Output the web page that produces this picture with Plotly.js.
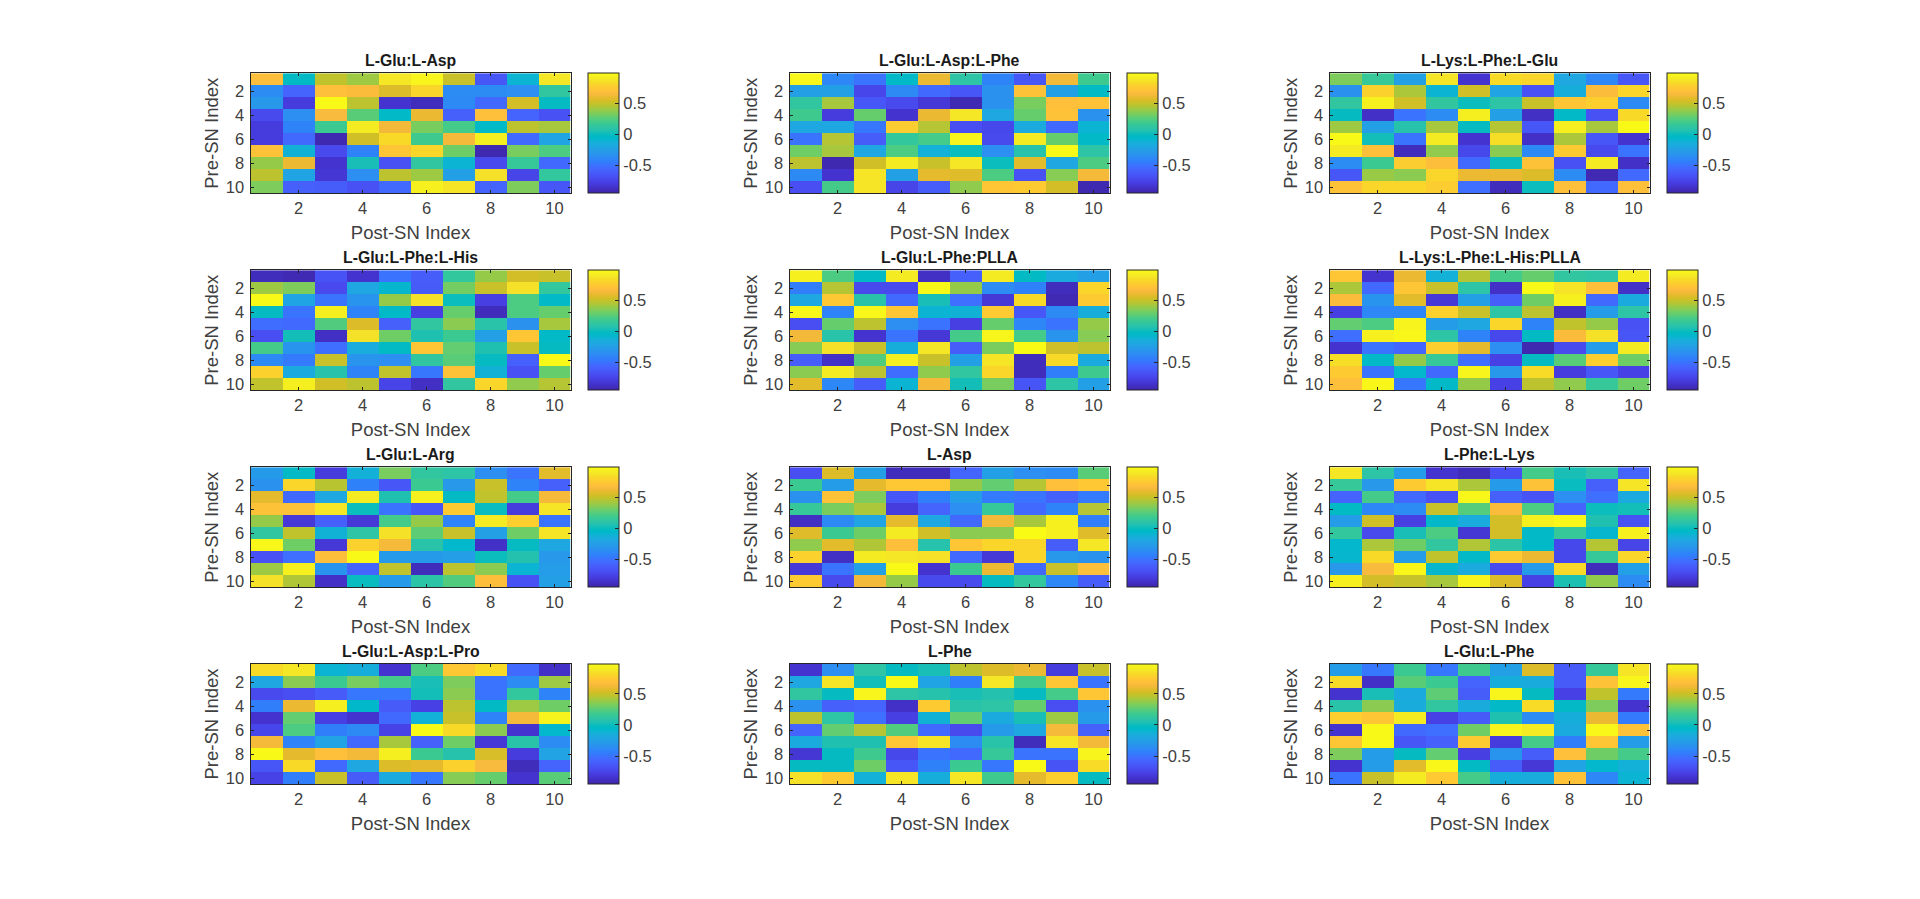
<!DOCTYPE html>
<html>
<head>
<meta charset="utf-8">
<script src="https://cdn.plot.ly/plotly-3.0.1.min.js"></script>
<style>html,body{margin:0;padding:0;background:#fff}#chart{width:1920px;height:899px}</style>
</head>
<body>
<div id="chart"></div>
<script>
const panelTitles = ["L-Glu:L-Asp","L-Glu:L-Asp:L-Phe","L-Lys:L-Phe:L-Glu","L-Glu:L-Phe:L-His","L-Glu:L-Phe:PLLA","L-Lys:L-Phe:L-His:PLLA","L-Glu:L-Arg","L-Asp","L-Phe:L-Lys","L-Glu:L-Asp:L-Pro","L-Phe","L-Glu:L-Phe"];
const snIndex = [1,2,3,4,5,6,7,8,9,10];

const gluAsp = [
[.67,-.03,.48,.40,.88,.95,.50,-.65,-.10,.88],
[-.37,-.58,.68,.66,.55,.80,-.37,-.37,-.35,.12],
[-.30,-.80,.97,.47,-.85,-.90,-.38,-.55,.53,-.02],
[-.72,-.35,.65,.25,-.05,.60,-.60,.68,-.58,-.68],
[-.80,-.42,.17,.90,.62,.32,.20,-.05,.47,.42],
[-.80,-.55,-.93,.52,.82,.18,.63,.92,-.55,-.22],
[.70,-.12,-.72,-.42,.72,.80,.30,-.93,.32,.22],
[.38,.60,-.85,.03,-.68,.12,-.10,-.72,.15,-.55],
[.47,-.22,-.83,-.35,.47,.40,-.25,.85,-.75,.13],
[.33,-.60,-.62,-.68,-.55,.93,.87,-.58,.33,-.65]];
const gluAspPhe = [
[.96,-.40,-.50,-.05,.60,.10,-.42,-.65,.62,.18],
[-.25,-.25,-.74,-.38,-.55,-.65,-.33,.70,-.25,-.03],
[.12,.42,-.65,-.72,-.82,-.92,-.33,.32,.68,.70],
[.18,-.80,.28,-.85,.60,.88,-.20,.28,.70,-.33],
[-.20,-.20,-.48,.76,.45,-.70,-.73,-.18,-.55,-.10],
[-.50,.45,-.62,.13,.20,.95,-.72,.90,.28,-.05],
[.30,.42,-.20,.22,-.13,.00,-.35,.07,.97,.10],
[.47,-.93,.52,.90,.50,.88,.00,.57,-.20,.22],
[-.38,-.85,.87,-.25,.58,.56,.22,-.68,.35,.63],
[-.70,.20,.87,-.75,-.62,.37,.72,.75,.53,-.93]];
const lysPheGlu = [
[.33,.15,-.25,.87,-.85,.83,.80,-.20,-.40,-.65],
[-.33,.78,.43,-.10,.52,-.22,-.68,-.15,.66,.80],
[.12,.93,.52,.12,.00,.10,.50,.72,.77,-.38],
[-.02,-.87,-.50,-.37,.92,-.25,-.88,-.05,-.68,.82],
[.40,-.25,.07,.42,-.02,.45,-.65,.92,.42,.97],
[.97,.02,-.50,.90,-.85,.84,-.87,.43,-.65,-.85],
[.90,.68,-.90,.37,-.73,.36,-.38,.75,-.72,-.50],
[-.37,.17,.76,.67,-.55,.00,.70,-.68,.90,-.87],
[-.65,.39,.36,.80,.60,.60,.55,-.37,-.92,-.55],
[.70,.80,.80,.76,-.52,-.90,.00,.68,-.55,.68]];
const gluPheHis = [
[-.90,-.92,-.67,-.85,-.50,-.62,.13,.38,.53,.50],
[.40,.33,-.72,-.20,-.08,-.63,.31,.50,.85,.13],
[.97,-.22,-.50,-.32,.38,.85,.00,-.78,.22,-.05],
[-.02,-.50,.92,-.42,-.05,-.78,.28,-.90,.22,.28],
[-.53,-.55,.23,.55,-.60,.12,.36,.08,-.33,.42],
[-.70,.02,-.88,.85,.30,.05,.17,-.25,.72,-.05],
[.20,-.32,-.52,-.16,-.03,.72,.27,.05,.50,-.02],
[-.38,-.47,.50,-.32,-.35,.12,.25,-.02,-.60,.97],
[.78,-.18,.07,-.42,.48,-.48,.70,-.12,-.68,.28],
[.48,.92,.52,.47,-.75,-.88,.12,.80,.37,.45]];
const gluPhePlla = [
[.93,.22,-.03,.90,-.88,-.60,.90,-.03,-.18,-.25],
[-.45,.45,-.72,-.72,.97,.38,-.37,-.43,-.90,.80],
[-.20,.73,.08,-.55,.03,-.52,-.82,.82,-.92,.75],
[.96,-.42,.96,.72,-.10,-.12,.75,-.65,-.38,-.15],
[-.70,.28,.47,-.35,-.50,-.78,.28,-.40,-.50,.38],
[.62,.08,-.85,-.50,-.82,.20,.95,.20,-.32,.35],
[.35,.85,.50,-.15,.88,-.62,.32,.99,.52,.47],
[-.62,-.87,.23,.92,.50,-.25,.87,-.90,.82,-.18],
[.36,.90,.47,-.53,.37,.12,.80,-.90,-.45,.18],
[.57,-.40,-.62,-.10,.63,.02,.32,-.66,.10,-.25]];
const lysPheHisPlla = [
[.72,-.85,.60,-.13,.45,.20,.28,.12,.10,.90],
[.43,-.55,.72,.50,.10,-.87,.97,.87,.68,-.87],
[.66,-.32,.57,-.82,-.25,-.62,.30,.93,-.55,-.18],
[-.78,-.40,-.40,.78,.50,.10,.47,-.88,-.27,.10],
[.27,.22,.94,-.27,-.20,.80,-.42,.48,.38,-.68],
[-.52,.93,.96,.10,-.42,-.73,-.03,.66,.85,-.66],
[-.85,-.50,-.56,.77,.58,-.35,-.93,-.72,-.27,.90],
[.84,-.05,.38,.15,-.53,-.77,-.02,.25,.77,.30],
[.75,-.50,-.07,-.55,.95,-.30,.83,-.80,-.65,-.77],
[.68,.96,-.48,-.05,.38,-.77,.47,.37,.15,.30]];
const gluArg = [
[-.28,-.04,-.80,-.13,.32,.12,.10,-.35,-.50,.57],
[-.33,.80,.46,-.43,-.65,.17,-.30,.50,-.42,-.60],
[.58,-.55,-.20,.90,.05,.93,-.03,.48,.20,.63],
[.70,.70,.88,.00,-.50,-.65,.75,-.01,-.80,.87],
[.38,-.82,-.60,-.82,.20,.38,-.42,.90,.77,-.50],
[.12,.48,-.12,.10,.85,.26,.50,-.25,.30,.87],
[.96,.30,-.82,.78,.63,.08,-.07,-.87,-.02,-.20],
[-.68,-.52,.67,.97,-.28,-.28,-.26,.00,.06,-.30],
[.40,.93,-.32,-.58,.48,-.90,.47,.36,-.10,-.27],
[.85,.44,-.87,-.01,-.28,.09,.23,.67,-.68,-.25]];
const asp = [
[-.70,.55,-.25,-.90,-.90,-.57,-.25,-.35,-.37,.25],
[.17,-.27,.58,.73,.73,.38,.27,.45,.68,.73],
[-.33,.70,.33,-.65,-.45,-.27,-.47,-.50,-.60,-.47],
[.15,.32,.43,-.80,-.58,-.35,.15,-.55,-.42,.45],
[-.88,-.38,-.22,.58,-.20,-.55,.62,.42,.93,-.45],
[.56,.17,.30,.90,.52,.36,.36,.98,.93,.56],
[.37,.57,.44,.68,.07,.72,.80,.80,-.62,.88],
[.78,-.88,.90,.88,.85,-.55,-.82,.80,-.30,-.33],
[-.82,-.50,-.25,.97,-.85,.17,.60,-.55,.50,.68],
[.75,-.72,.62,.38,-.72,-.72,-.02,.13,-.40,-.62]];
const pheLys = [
[.88,.10,-.27,-.85,-.90,-.70,.20,.03,.10,-.58],
[.15,-.30,.75,.87,.43,-.28,.70,-.01,-.60,.87],
[-.58,.20,-.55,-.68,.96,-.60,-.67,-.35,-.52,-.18],
[-.03,-.40,-.37,.50,.24,.66,.22,-.58,.00,.02],
[-.27,.52,-.78,-.06,-.16,.53,.93,.96,.05,-.68],
[.13,-.72,.03,.22,-.83,.53,-.05,.15,-.08,.93],
[-.07,.43,.30,.12,.44,.09,-.05,-.73,.45,-.75],
[-.08,.82,-.27,.48,-.05,.75,.60,-.73,.15,.80],
[-.30,.65,.96,-.08,-.18,-.72,-.28,.82,-.90,-.25],
[.93,.53,.49,.42,.94,.55,-.77,.04,.37,-.37]];
const gluAspPro = [
[.83,.88,-.10,-.15,-.85,.22,.73,.83,-.55,-.87],
[-.20,.36,.17,.32,.20,.03,.33,-.50,-.37,.40],
[-.72,-.70,-.63,-.48,-.48,.02,.36,-.50,.13,-.42],
[-.45,.60,.92,-.06,-.63,-.77,.47,-.03,.40,.30],
[-.85,.27,-.78,-.85,-.55,-.13,.50,-.42,.63,.94],
[-.74,.22,-.45,-.38,-.76,.97,.82,.36,-.85,-.07],
[.63,-.42,-.23,-.55,.42,-.60,.30,-.82,.08,-.37],
[.97,.58,.68,.62,.92,.17,.07,.54,-.80,-.23],
[-.65,.82,-.55,-.20,.55,.58,.78,.65,-.90,-.58],
[-.76,-.45,.50,-.63,-.18,-.48,.35,.28,-.85,.25]];
const phe = [
[-.85,-.35,.10,-.02,.03,.47,.55,.60,-.80,.50],
[-.20,.87,.02,.97,-.22,-.45,.88,.20,.72,-.50],
[.12,-.02,.95,.10,.07,.03,.06,-.02,.20,.72],
[-.33,-.60,-.58,-.87,.75,.08,.10,.28,-.70,-.33],
[.47,.10,-.52,-.78,-.12,.27,-.18,.03,.40,-.28],
[-.58,.27,.45,.23,-.55,-.72,-.28,-.20,.63,-.60],
[-.18,.05,.05,.72,.87,-.37,.08,-.90,.87,.62],
[-.83,-.02,.18,-.73,-.50,-.55,.15,-.50,-.50,.95],
[-.02,-.02,.30,-.65,-.43,.17,-.48,.97,-.67,.83],
[.85,.75,-.13,.87,-.15,.88,.18,.58,.77,-.02]];
const gluPhe = [
[-.27,-.48,.17,-.48,.18,-.25,.55,-.63,.15,.87],
[.83,-.87,.25,.17,-.58,-.15,-.17,-.63,.70,.95],
[-.85,.03,-.18,.26,-.62,.95,-.02,-.77,.48,-.47],
[.08,.36,-.17,.12,-.17,-.05,.83,-.04,.33,-.85],
[.77,.72,.90,-.77,-.63,.05,-.37,-.15,.60,-.47],
[-.85,.97,-.55,-.52,.30,.95,.90,-.18,.96,.70],
[.72,.97,-.65,-.60,.75,-.80,.20,-.45,.72,-.27],
[.33,-.27,-.02,.27,-.78,-.32,-.62,.68,.30,.20],
[-.85,-.27,.57,.96,-.03,-.62,-.82,-.22,-.07,-.13],
[-.50,.50,.90,.74,.20,-.15,-.17,.70,-.40,-.10]];

const panelValues = [gluAsp,gluAspPhe,lysPheGlu,gluPheHis,gluPhePlla,lysPheHisPlla,gluArg,asp,pheLys,gluAspPro,phe,gluPhe];

const parulaColors = [[.2422,.1504,.6603],[.2504,.165,.7076],[.2578,.1818,.7511],[.2647,.1978,.7952],[.2706,.2147,.8364],[.2751,.2342,.871],[.2783,.2559,.8991],[.2803,.2782,.9221],[.2813,.3006,.9414],[.281,.3228,.9579],[.2795,.3447,.9717],[.276,.3667,.9829],[.2699,.3892,.9906],[.2602,.4123,.9952],[.244,.4358,.9988],[.2206,.4603,.9973],[.1963,.4847,.9892],[.1834,.5074,.9798],[.1786,.5289,.9682],[.1764,.5499,.952],[.1687,.5703,.9359],[.154,.5902,.9218],[.146,.6091,.9079],[.138,.6276,.8973],[.1248,.6459,.8883],[.1113,.6635,.8763],[.0952,.6798,.8598],[.0689,.6948,.8394],[.0297,.7082,.8163],[.0036,.7203,.7917],[.0067,.7312,.766],[.0433,.7411,.7394],[.0964,.75,.712],[.1408,.7584,.6842],[.1717,.767,.6554],[.1938,.7758,.6251],[.2161,.7843,.5923],[.247,.7918,.5567],[.2906,.7973,.5188],[.3406,.8008,.4789],[.3909,.8029,.4354],[.4456,.8024,.3909],[.5044,.7993,.348],[.5616,.7942,.3045],[.6174,.7876,.2612],[.672,.7793,.2227],[.7242,.7698,.191],[.7738,.7598,.1646],[.8203,.7498,.1535],[.8634,.7406,.1596],[.9035,.733,.1774],[.9393,.7288,.21],[.9728,.7298,.2394],[.9956,.7434,.2371],[.997,.7659,.2199],[.9952,.7861,.1991],[.9892,.8086,.1827],[.9786,.8313,.167],[.9676,.8553,.1486],[.961,.889,.1537],[.9597,.9135,.1423],[.9628,.9373,.1265],[.9691,.9606,.1064],[.9769,.9839,.0805]];
const parula = parulaColors.map((c,i)=>[i/(parulaColors.length-1),`rgb(${c.map(v=>Math.round(v*255)).join(',')})`]);

const W = 1920, H = 899;
const colLeft = [250.5, 789.5, 1329.5];
const rowTop = [73.2, 270.2, 467.2, 664];
const plotW = 320, plotH = 120, barGap = 17, barW = 31;
const axisInk = '#262626';
const textInk = '#404040';
const fontFace = '"Liberation Sans", Arial, sans-serif';

const traces = [], annotations = [];
const layout = {
  width: W, height: H, paper_bgcolor: '#fff', plot_bgcolor: '#fff',
  margin: {l:0,r:0,t:0,b:0,pad:0}, showlegend:false,
  font: {family: fontFace, color: textInk}
};

panelValues.forEach((z, i) => {
  const col = i % 3, row = Math.floor(i / 3);
  const n = i === 0 ? '' : String(i + 1);
  const L = colLeft[col], T = rowTop[row];
  traces.push({
    type: 'heatmap', x: snIndex, y: snIndex, z: z,
    xaxis: 'x' + n, yaxis: 'y' + n,
    colorscale: parula, zmin: -0.95, zmax: 0.98, hoverongaps:false,
    colorbar: {
      x: (L + plotW + barGap) / W, xanchor: 'left', xref:'paper',
      y: 1 - (T + plotH / 2) / H, yanchor: 'middle', yref:'paper',
      len: plotH / H, lenmode: 'fraction',
      thickness: barW, thicknessmode: 'pixels', xpad: 0, ypad: 0,
      outlinecolor: axisInk, outlinewidth: 1,
      ticks: 'inside', ticklen: 4, tickcolor: axisInk, tickwidth: 1,
      tickmode: 'array', tickvals: [-0.5, 0, 0.5], ticktext: ['-0.5', '0', '0.5'],
      tickfont: {family: fontFace, size: 16.5, color: textInk}
    }
  });
  const axisBase = {
    range: [0.5, 10.5], tickmode: 'array', tickvals: [2,4,6,8,10], ticktext: ['2','4','6','8','10'],
    ticks: 'inside', ticklen: 3, tickcolor: axisInk, tickwidth: 1,
    showline: true, linecolor: axisInk, linewidth: 1, mirror: 'ticks',
    showgrid: false, zeroline: false,
    tickfont: {family: fontFace, size: 16.5, color: textInk}
  };
  layout['xaxis' + n] = Object.assign({}, axisBase, {
    domain: [L / W, (L + plotW) / W], anchor: 'y' + n,
    title: {text: 'Post-SN Index', font: {family: fontFace, size: 18.5, color: textInk}, standoff: 10}
  });
  layout['yaxis' + n] = Object.assign({}, axisBase, {
    domain: [1 - (T + plotH) / H, 1 - T / H], anchor: 'x' + n,
    range: [10.5, 0.5], ticklabelstandoff: 2,
    title: {text: 'Pre-SN Index', font: {family: fontFace, size: 18.5, color: textInk}, standoff: 2}
  });
  annotations.push({
    xref: 'paper', yref: 'paper', x: (L + plotW / 2) / W, y: 1 - (T - 2) / H,
    xanchor: 'center', yanchor: 'bottom', showarrow: false,
    text: '<b>' + panelTitles[i] + '</b>',
    font: {family: fontFace, size: 15.8, color: '#1a1a1a'}
  });
});
layout.annotations = annotations;

Plotly.newPlot('chart', traces, layout, {displayModeBar: false, responsive: false});
</script>
</body>
</html>
